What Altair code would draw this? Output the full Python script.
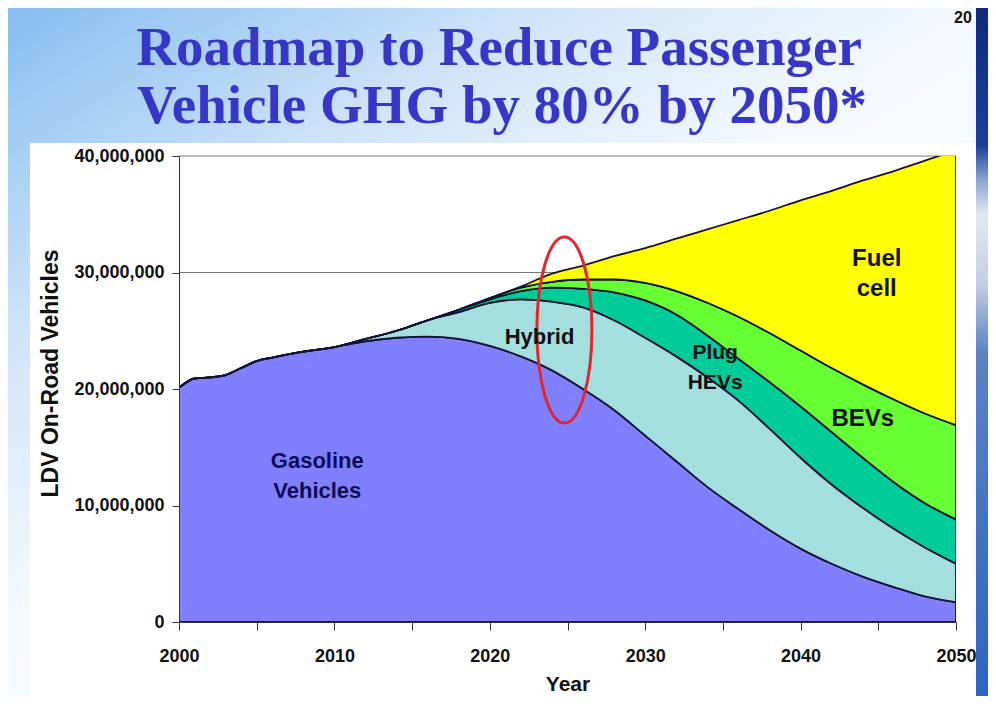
import altair as alt
import pandas as pd

# ---------------- data (millions of vehicles, per layer) ----------------
YEARS = [2000, 2001, 2002, 2003, 2004, 2005, 2006, 2008, 2010, 2012, 2014, 2016,
         2018, 2020, 2022, 2024, 2026, 2028, 2030, 2032, 2034, 2036, 2038, 2040,
         2042, 2044, 2046, 2048, 2050]
SERIES = ["Gasoline Vehicles", "Hybrid", "Plug HEVs", "BEVs", "Fuel cell"]
GASOLINE = [20.1, 20.9, 21.0, 21.2, 21.8, 22.4, 22.7, 23.2, 23.6, 24.1, 24.4, 24.5,
            24.3, 23.7, 22.8, 21.6, 20.0, 18.2, 16.0, 13.8, 11.6, 9.7, 7.9, 6.3,
            5.0, 3.9, 3.0, 2.2, 1.7]
HYBRID = [0, 0, 0, 0, 0, 0, 0, 0, 0, 0.2, 0.6, 1.4,
          2.3, 3.7, 4.9, 5.9, 7.0, 7.7, 8.4, 9.0, 9.4, 9.3, 8.7, 7.8,
          6.8, 5.9, 5.0, 4.2, 3.3]
PHEV = [0, 0, 0, 0, 0, 0, 0, 0, 0, 0, 0, 0,
        0.2, 0.3, 0.7, 1.2, 1.6, 2.4, 3.2, 3.6, 3.6, 3.6, 4.0, 4.4,
        4.5, 4.3, 4.0, 3.8, 3.8]
BEV = [0, 0, 0, 0, 0, 0, 0, 0, 0, 0, 0, 0,
       0, 0.1, 0.3, 0.5, 0.8, 1.1, 1.5, 2.0, 2.8, 3.6, 4.2, 4.8,
       5.5, 6.3, 7.1, 7.7, 8.1]
FUELCELL = [0, 0, 0, 0, 0, 0, 0, 0, 0, 0, 0, 0,
            0, 0, 0.1, 0.7, 1.2, 2.0, 3.0, 4.5, 6.3, 8.3, 10.5, 12.9,
            15.2, 17.5, 19.6, 21.7, 23.6]
COLORS = ["#8080ff", "#a4dfe0", "#00cc99", "#66ff33", "#ffff00"]

Y_TICKS = [0, 10_000_000, 20_000_000, 30_000_000, 40_000_000]
X_TICKS = [2000, 2005, 2010, 2015, 2020, 2025, 2030, 2035, 2040, 2045, 2050]
GRID_VALUES = [10_000_000, 20_000_000, 30_000_000, 40_000_000]

LABEL_TEXT = ["Gasoline\nVehicles", "Hybrid", "Plug\nHEVs", "Fuel\ncell", "BEVs"]
LABEL_YEAR = [2008.9, 2023.2, 2034.5, 2044.9, 2044.0]
LABEL_VALUE_M = [13.8, 24.5, 23.1, 31.2, 17.4]
LABEL_SIZE = [22, 22, 21, 24, 24]
LABEL_COLOR = ["#0c0c52", "#111111", "#111111", "#111111", "#111111"]

ELLIPSE_YEAR = [2024.8]
ELLIPSE_VALUE_M = [25.06]

TITLE_1 = "Roadmap to Reduce Passenger"
TITLE_2 = "Vehicle GHG by 80% by 2050*"
PAGE_NO = "20"

# ---------------- tables ----------------
rows = []
for i, (name, vals) in enumerate(zip(SERIES, [GASOLINE, HYBRID, PHEV, BEV, FUELCELL])):
    for yr, v in zip(YEARS, vals):
        rows.append({"year": yr, "series": name, "order": i, "vehicles": v * 1_000_000})
df = pd.DataFrame(rows)

labels_df = pd.DataFrame({
    "year": LABEL_YEAR,
    "vehicles": [v * 1_000_000 for v in LABEL_VALUE_M],
    "text": LABEL_TEXT,
    "fs": LABEL_SIZE,
    "col": LABEL_COLOR,
})
ellipse_df = pd.DataFrame({"year": ELLIPSE_YEAR,
                           "vehicles": [v * 1_000_000 for v in ELLIPSE_VALUE_M]})
grid_df = pd.DataFrame({"vehicles": GRID_VALUES})
one = pd.DataFrame({"k": [0]})

W, H = 777, 466
FONT = "Liberation Sans"

x_scale = alt.Scale(domain=[2000, 2050], nice=False, zero=False)
y_scale = alt.Scale(domain=[0, 40_000_000], nice=False)

x_axis = alt.Axis(
    values=X_TICKS, labelExpr="datum.value % 10 == 0 ? format(datum.value, 'd') : ''",
    title="Year", grid=False, tickSize=8, labelPadding=17, titlePadding=8,
    labelFont=FONT, labelFontSize=18, labelFontWeight="bold", labelColor="#111111",
    titleFont=FONT, titleFontSize=21, titleFontWeight="bold", titleColor="#111111",
    domainColor="#333333", tickColor="#333333", zindex=1, labelFlush=False,
    labelOverlap=False,
)
y_axis = alt.Axis(
    values=Y_TICKS, format=",d", title="LDV On-Road Vehicles", grid=False,
    tickSize=7, labelPadding=8, titlePadding=11, titleY=217,
    labelFont=FONT, labelFontSize=18, labelFontWeight="bold", labelColor="#111111",
    titleFont=FONT, titleFontSize=23, titleFontWeight="bold", titleColor="#111111",
    domainColor="#333333", tickColor="#333333", zindex=1,
)

X = alt.X("year:Q", scale=x_scale, axis=x_axis)
Y = alt.Y("vehicles:Q", scale=y_scale, axis=y_axis)

# ---------------- slide decoration ----------------
slide_bg = alt.Chart(one).mark_rect(
    fill={"gradient": "linear", "x1": 0, "y1": 0, "x2": 0.8, "y2": 0.9,
          "stops": [{"offset": 0, "color": "#86bdf0"},
                    {"offset": 0.3, "color": "#cfe4f8"},
                    {"offset": 0.55, "color": "#f4f9fe"},
                    {"offset": 1, "color": "#ffffff"}]},
).encode(x=alt.value(-171), x2=alt.value(809), y=alt.value(-148), y2=alt.value(540))

panel = alt.Chart(one).mark_rect(fill="#ffffff").encode(
    x=alt.value(-149), x2=alt.value(797), y=alt.value(-13), y2=alt.value(540))

strip = alt.Chart(one).mark_rect(
    fill={"gradient": "linear", "x1": 0, "y1": 0, "x2": 0, "y2": 1,
          "stops": [{"offset": 0, "color": "#10297a"},
                    {"offset": 0.2, "color": "#1b3f9c"},
                    {"offset": 0.25, "color": "#8aa3cf"},
                    {"offset": 0.3, "color": "#e2e8f1"},
                    {"offset": 0.4, "color": "#c3cfe2"},
                    {"offset": 0.5, "color": "#5b83c4"},
                    {"offset": 1, "color": "#2f63c0"}]},
).encode(x=alt.value(797), x2=alt.value(809), y=alt.value(-148), y2=alt.value(540))

# ---------------- chart layers ----------------
grid = alt.Chart(grid_df).mark_rule(color="#777777", strokeWidth=1).encode(y=Y)

areas = alt.Chart(df).mark_area(
    interpolate="monotone", stroke="#141432", strokeWidth=1.8, clip=True, opacity=1,
).encode(
    x=X, y=alt.Y("vehicles:Q", scale=y_scale, axis=y_axis, stack="zero"),
    color=alt.Color("series:N", scale=alt.Scale(domain=SERIES, range=COLORS), legend=None),
    order=alt.Order("order:Q", sort="ascending"),
)

ELLIPSE_PATH = ("M 0.296 0 C 0.296 0.5523 0.1635 1 0 1 "
                "C -0.1635 1 -0.296 0.5523 -0.296 0 "
                "C -0.296 -0.5523 -0.1635 -1 0 -1 "
                "C 0.1635 -1 0.296 -0.5523 0.296 0 Z")
ellipse = alt.Chart(ellipse_df).mark_point(
    shape=ELLIPSE_PATH, size=34596, filled=False, color="#e3262b",
    strokeWidth=3, opacity=1,
).encode(x=X, y=Y)

labels = alt.Chart(labels_df).mark_text(
    font=FONT, fontWeight="bold", lineBreak="\n", lineHeight=30,
    align="center", baseline="middle",
).encode(
    x=X, y=Y, text="text:N",
    size=alt.Size("fs:Q", scale=None, legend=None),
    color=alt.Color("col:N", scale=None, legend=None),
)

title_style = dict(font="Liberation Serif", fontWeight="bold", fontSize=55,
                   color="#3636c9", align="center", baseline="alphabetic")
t1 = alt.Chart(pd.DataFrame({"t": [TITLE_1]})).mark_text(**title_style).encode(
    text="t:N", x=alt.value(320), y=alt.value(-91))
t2 = alt.Chart(pd.DataFrame({"t": [TITLE_2]})).mark_text(**title_style).encode(
    text="t:N", x=alt.value(323), y=alt.value(-33))
page = alt.Chart(pd.DataFrame({"t": [PAGE_NO]})).mark_text(
    font=FONT, fontWeight="bold", fontSize=16, color="#111111",
    align="center", baseline="middle").encode(
    text="t:N", x=alt.value(784), y=alt.value(-138))

chart = alt.layer(
    slide_bg, panel, strip, grid, areas, ellipse, labels, t1, t2, page
).properties(
    width=W, height=H,
    autosize=alt.AutoSizeParams(type="none"),
    padding={"left": 171, "top": 148, "right": 32, "bottom": 74},
).configure_view(strokeWidth=0)

chart.save("out.html", embed_options={"renderer": "svg", "actions": False})
